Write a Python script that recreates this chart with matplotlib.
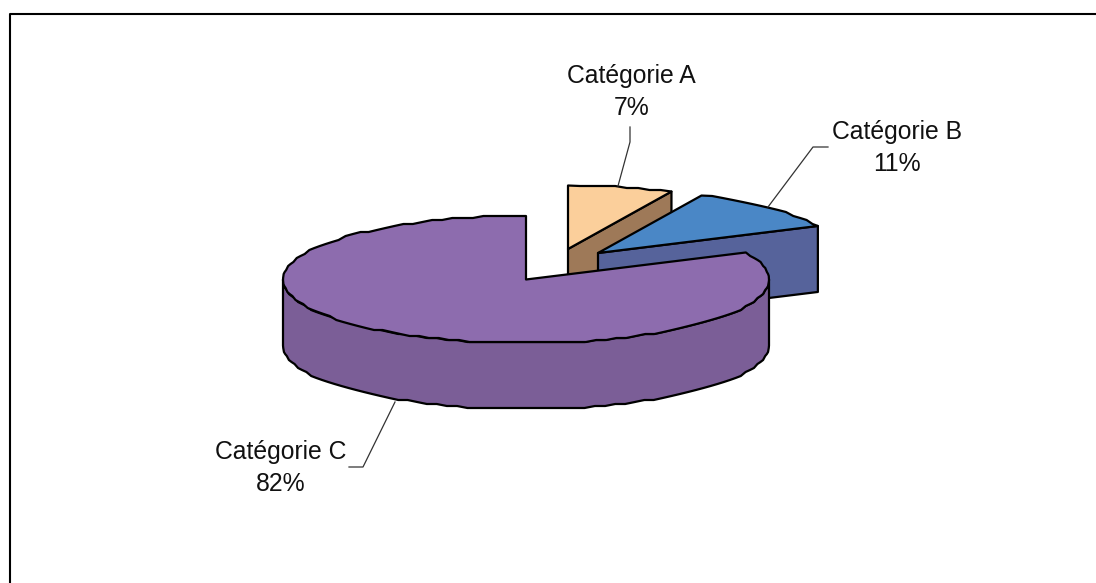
import numpy as np
import matplotlib
matplotlib.use("Agg")
import matplotlib.pyplot as plt
from matplotlib.patches import Polygon

categories = ["Catégorie A", "Catégorie B", "Catégorie C"]
shares = [7, 11, 82]
top_colors = ["#FBCF9B", "#4A87C6", "#8D6CAE"]
side_colors = ["#9E7958", "#56639B", "#7B5E97"]

# Projected pie geometry, in pixels
CX, CY = 526.0, 279.5
RX, RY = 243.0, 63.5
DEPTH = 66.0
offsets = [(42.0, -30.5), (72.0, -26.5), (0.0, 0.0)]
EDGE = dict(edgecolor="black", linewidth=1.6, joinstyle="round")

fig = plt.figure(figsize=(10.96, 5.83), dpi=100)
ax = fig.add_axes([0, 0, 1, 1])
ax.set_xlim(0, 1096)
ax.set_ylim(583, 0)
ax.axis("off")

# Chart frame: its right and bottom sides run off the canvas
ax.plot([9.5, 9.5, 1096], [583, 13.5, 13.5], color="black", lw=1.5, zorder=1)


def rim(a0, a1, cx, cy):
    """Rim points between two clockwise angles measured from twelve o'clock."""
    n = max(2, int(abs(a1 - a0) / 2.5))
    t = np.radians(np.linspace(a0, a1, n))
    x = cx + RX * np.sin(t)
    y = cy - RY * np.cos(t)
    # Coarse vertical rounding gives the rim its stepped outline
    y[1:-1] = np.round(y[1:-1] / 2) * 2
    return x, y


total = sum(shares)
edges = np.cumsum([0] + shares) / total * 360.0

for i, (share, top, side) in enumerate(zip(shares, top_colors, side_colors)):
    a0, a1 = edges[i], edges[i + 1]
    cx, cy = CX + offsets[i][0], CY + offsets[i][1]
    z = 2 + i * 3
    x, y = rim(a0, a1, cx, cy)

    if i < 2:
        # Exploded slices show the flat cut face on their trailing edge
        ex, ey = x[-1], y[-1]
        face = [(cx, cy), (ex, ey), (ex, ey + DEPTH), (cx, cy + DEPTH)]
        ax.add_patch(Polygon(face, closed=True, facecolor=side, zorder=z, **EDGE))
    else:
        # The large slice shows its outer wall along the front half of the pie
        wx, wy = rim(90.0, 270.0, cx, cy)
        wall = np.r_[np.c_[wx, wy], np.c_[wx[::-1], wy[::-1] + DEPTH]]
        ax.add_patch(Polygon(wall, closed=True, facecolor=side, zorder=z, **EDGE))

    pts = np.r_[[(cx, cy)], np.c_[x, y]]
    ax.add_patch(Polygon(pts, closed=True, facecolor=top, zorder=z + 1, **EDGE))

# Labels with elbow leader lines
labels = [
    (631.5, 76, [630, 630, 618], [127, 142, 186]),
    (897, 132, [828, 813, 768], [147, 147, 207]),
    (281, 452, [349, 363, 395], [467, 467, 402]),
]
TEXT = dict(ha="center", va="center", family="Liberation Sans", fontsize=17.8,
            color="#111111", zorder=20)
for name, share, (tx, ty, lx, ly) in zip(categories, shares, labels):
    ax.text(tx, ty, name, **TEXT)
    ax.text(tx, ty + 32, f"{share}%", **TEXT)
    ax.plot(lx, ly, color="#333333", lw=0.9, zorder=19)

fig.savefig("out.png", dpi=100, facecolor="white")
